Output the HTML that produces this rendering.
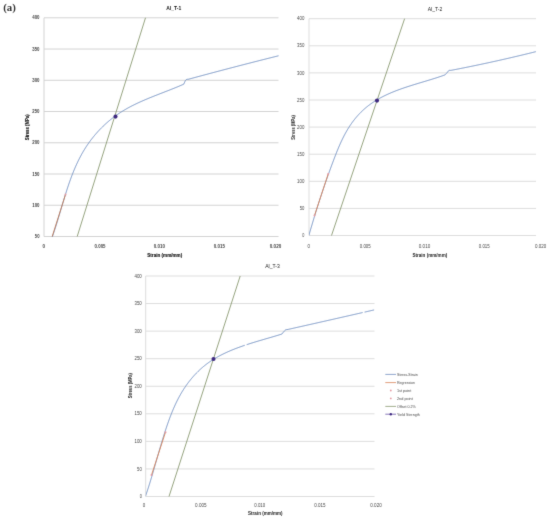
<!DOCTYPE html>
<html lang="en">
<head>
<meta charset="utf-8">
<title>Stress-strain curves Al_T-1, Al_T-2, Al_T-3</title>
<style>
html,body{margin:0;padding:0;background:#fff;}
body{width:550px;height:519px;overflow:hidden;}
svg{display:block;}
</style>
</head>
<body>
<svg width="550" height="519" viewBox="0 0 550 519" font-family="'Liberation Sans', Arial, sans-serif">
<defs><filter id="soft" x="0" y="0" width="550" height="519" filterUnits="userSpaceOnUse" color-interpolation-filters="sRGB"><feConvolveMatrix order="3" kernelMatrix="0.0100 0.0800 0.0100 0.0800 0.6400 0.0800 0.0100 0.0800 0.0100" edgeMode="duplicate"/></filter></defs>
<g filter="url(#soft)">
<rect width="550" height="519" fill="#fff"/>
<line x1="44.00" y1="17.80" x2="278.50" y2="17.80" stroke="#d3d3d3" stroke-width="1.00" />
<text x="0" y="0" font-size="4.60" text-anchor="middle" font-weight="bold" fill="#444444" transform="translate(35.90,19.46) scale(0.9511,1)">400</text>
<line x1="44.00" y1="49.04" x2="278.50" y2="49.04" stroke="#d3d3d3" stroke-width="1.00" />
<text x="0" y="0" font-size="4.60" text-anchor="middle" font-weight="bold" fill="#444444" transform="translate(35.90,50.70) scale(0.9511,1)">350</text>
<line x1="44.00" y1="80.29" x2="278.50" y2="80.29" stroke="#d3d3d3" stroke-width="1.00" />
<text x="0" y="0" font-size="4.60" text-anchor="middle" font-weight="bold" fill="#444444" transform="translate(35.90,81.94) scale(0.9511,1)">300</text>
<line x1="44.00" y1="111.53" x2="278.50" y2="111.53" stroke="#d3d3d3" stroke-width="1.00" />
<text x="0" y="0" font-size="4.60" text-anchor="middle" font-weight="bold" fill="#444444" transform="translate(35.90,113.18) scale(0.9511,1)">250</text>
<line x1="44.00" y1="142.77" x2="278.50" y2="142.77" stroke="#d3d3d3" stroke-width="1.00" />
<text x="0" y="0" font-size="4.60" text-anchor="middle" font-weight="bold" fill="#444444" transform="translate(35.90,144.43) scale(0.9511,1)">200</text>
<line x1="44.00" y1="174.01" x2="278.50" y2="174.01" stroke="#d3d3d3" stroke-width="1.00" />
<text x="0" y="0" font-size="4.60" text-anchor="middle" font-weight="bold" fill="#444444" transform="translate(35.90,175.67) scale(0.9511,1)">150</text>
<line x1="44.00" y1="205.26" x2="278.50" y2="205.26" stroke="#d3d3d3" stroke-width="1.00" />
<text x="0" y="0" font-size="4.60" text-anchor="middle" font-weight="bold" fill="#444444" transform="translate(35.90,206.91) scale(0.9511,1)">100</text>
<line x1="44.00" y1="236.50" x2="278.50" y2="236.50" stroke="#d3d3d3" stroke-width="1.00" />
<text x="0" y="0" font-size="4.60" text-anchor="middle" font-weight="bold" fill="#444444" transform="translate(37.20,238.16) scale(0.9186,1)">50</text>
<line x1="44.00" y1="17.80" x2="44.00" y2="236.50" stroke="#d3d3d3" stroke-width="1.00" />
<text x="0" y="0" font-size="4.60" text-anchor="middle" font-weight="bold" fill="#444444" transform="translate(43.80,247.66) scale(0.9772,1)">0</text>
<text x="0" y="0" font-size="4.60" text-anchor="middle" font-weight="bold" fill="#444444" transform="translate(100.05,247.66) scale(0.9556,1)">0.005</text>
<text x="0" y="0" font-size="4.60" text-anchor="middle" font-weight="bold" fill="#444444" transform="translate(159.35,247.66) scale(0.9730,1)">0.010</text>
<text x="0" y="0" font-size="4.60" text-anchor="middle" font-weight="bold" fill="#444444" transform="translate(219.35,247.66) scale(0.9730,1)">0.015</text>
<text x="0" y="0" font-size="4.60" text-anchor="middle" font-weight="bold" fill="#444444" transform="translate(275.50,247.66) scale(0.9990,1)">0.020</text>
<text x="0" y="0" font-size="5.00" text-anchor="middle" font-weight="bold" fill="#111111" stroke="#111111" stroke-width="0.12" transform="translate(164.75,256.60) scale(0.9196,1)">Strain (mm/mm)</text>
<text x="0" y="0" font-size="4.90" text-anchor="middle" font-weight="bold" fill="#111111" stroke="#111111" stroke-width="0.12" transform="translate(28.76,127.25) rotate(-90) scale(0.8759,1)">Stress (MPa)</text>
<text x="0" y="0" font-size="5.40" text-anchor="middle" font-weight="bold" fill="#111111" transform="translate(173.75,10.44) scale(0.9256,1)">Al_T-1</text>
<clipPath id="c1"><rect x="44.00" y="14.80" width="235.50" height="222.20"/></clipPath>
<g clip-path="url(#c1)" fill="none" stroke-linejoin="round" stroke-linecap="butt">
<line x1="77.20" y1="236.50" x2="145.50" y2="17.80" stroke="#8a9a72" stroke-width="0.90" />
<path d="M49.35,244.75 L49.60,244.13 L49.84,243.50 L50.09,242.88 L50.33,242.25 L50.57,241.62 L50.81,240.99 L51.04,240.35 L51.28,239.72 L51.51,239.08 L51.74,238.44 L51.97,237.80 L52.20,237.16 L52.43,236.52 L52.66,235.87 L52.88,235.23 L53.11,234.58 L53.33,233.93 L53.55,233.29 L53.77,232.63 L53.99,231.98 L54.21,231.33 L54.42,230.68 L54.64,230.02 L54.85,229.36 L55.07,228.71 L55.28,228.05 L55.49,227.39 L55.70,226.73 L55.91,226.07 L56.12,225.40 L56.33,224.74 L56.53,224.07 L56.74,223.41 L56.95,222.74 L57.15,222.07 L57.36,221.41 L57.56,220.74 L57.76,220.07 L57.97,219.40 L58.17,218.73 L58.37,218.06 L58.57,217.38 L58.78,216.71 L58.98,216.04 L59.18,215.36 L59.38,214.69 L59.58,214.01 L59.78,213.34 L59.98,212.66 L60.18,211.98 L60.38,211.31 L60.58,210.63 L60.78,209.95 L60.98,209.27 L61.18,208.60 L61.38,207.92 L61.58,207.24 L61.79,206.56 L61.99,205.88 L62.19,205.20 L62.39,204.52 L62.59,203.84 L62.80,203.16 L63.00,202.48 L63.20,201.80 L63.41,201.12 L63.61,200.44 L63.82,199.76 L64.02,199.08 L64.23,198.40 L64.44,197.72 L64.64,197.04 L64.85,196.37 L65.06,195.69 L65.27,195.01 L65.48,194.33 L65.70,193.65 L65.91,192.97 L66.12,192.30 L66.34,191.62 L66.55,190.94 L66.77,190.27 L66.99,189.59 L67.21,188.92 L67.43,188.24 L67.65,187.57 L67.88,186.90 L68.10,186.22 L68.33,185.55 L68.55,184.88 L68.78,184.21 L69.01,183.54 L69.24,182.87 L69.48,182.20 L69.71,181.53 L69.95,180.86 L70.19,180.20 L70.43,179.53 L70.67,178.87 L70.91,178.21 L71.16,177.54 L71.40,176.88 L71.65,176.22 L71.90,175.56 L72.16,174.90 L72.41,174.25 L72.67,173.59 L72.93,172.93 L73.19,172.28 L73.45,171.63 L73.72,170.98 L73.98,170.33 L74.25,169.68 L74.52,169.03 L74.80,168.38 L75.08,167.74 L75.35,167.09 L75.64,166.45 L75.92,165.81 L76.21,165.17 L76.50,164.53 L76.79,163.90 L77.08,163.26 L77.38,162.63 L77.68,162.00 L77.98,161.37 L78.28,160.74 L78.59,160.11 L78.90,159.49 L79.22,158.87 L79.53,158.25 L79.85,157.63 L80.17,157.01 L80.50,156.39 L80.83,155.78 L81.16,155.17 L81.49,154.56 L81.83,153.95 L82.17,153.34 L82.52,152.74 L82.86,152.14 L83.21,151.54 L83.57,150.94 L83.92,150.34 L84.29,149.75 L84.65,149.16 L85.02,148.57 L85.39,147.98 L85.76,147.40 L86.14,146.81 L86.52,146.23 L86.90,145.66 L87.29,145.08 L87.68,144.51 L88.08,143.94 L88.47,143.37 L88.87,142.80 L89.28,142.24 L89.68,141.68 L90.09,141.12 L90.51,140.56 L90.92,140.00 L91.34,139.45 L91.77,138.90 L92.19,138.36 L92.62,137.81 L93.05,137.27 L93.49,136.73 L93.93,136.19 L94.37,135.66 L94.81,135.13 L95.26,134.60 L95.71,134.07 L96.17,133.55 L96.62,133.03 L97.08,132.51 L97.54,132.00 L98.01,131.48 L98.48,130.97 L98.95,130.47 L99.43,129.96 L99.90,129.46 L100.38,128.96 L100.87,128.47 L101.35,127.97 L101.84,127.48 L102.34,127.00 L102.83,126.51 L103.33,126.03 L103.83,125.55 L104.33,125.08 L104.84,124.61 L105.35,124.14 L105.86,123.67 L106.38,123.21 L106.89,122.75 L107.42,122.29 L107.94,121.84 L108.46,121.39 L108.99,120.94 L109.53,120.50 L110.06,120.05 L110.60,119.62 L111.14,119.18 L111.68,118.75 L112.22,118.32 L112.77,117.90 L113.32,117.48 L113.87,117.06 L114.43,116.64 L114.99,116.23 L115.55,115.82 L116.11,115.42 L116.68,115.02 L117.25,114.62 L117.82,114.22 L118.39,113.83 L118.97,113.44 L119.55,113.06 L120.13,112.68 L120.71,112.30 L121.30,111.93 L121.89,111.56 L122.48,111.19 L123.07,110.83 L123.67,110.47 L124.27,110.11 L124.87,109.76 L125.47,109.41 L126.07,109.06 L126.68,108.71 L127.29,108.37 L127.90,108.03 L128.51,107.70 L129.13,107.37 L129.74,107.04 L130.36,106.71 L130.98,106.38 L131.60,106.06 L132.23,105.74 L132.85,105.43 L133.48,105.11 L134.11,104.80 L134.74,104.49 L135.37,104.18 L136.00,103.88 L136.63,103.57 L137.27,103.27 L137.90,102.98 L138.54,102.68 L139.18,102.39 L139.82,102.09 L140.46,101.80 L141.11,101.51 L141.75,101.23 L142.39,100.94 L143.04,100.66 L143.69,100.38 L144.33,100.10 L144.98,99.82 L145.63,99.54 L146.28,99.27 L146.93,98.99 L147.58,98.72 L148.23,98.45 L148.89,98.18 L149.54,97.91 L150.19,97.65 L150.85,97.38 L151.50,97.11 L152.16,96.85 L152.81,96.59 L153.47,96.33 L154.12,96.06 L154.78,95.80 L155.43,95.54 L156.09,95.29 L156.75,95.03 L157.40,94.77 L158.06,94.51 L158.71,94.26 L159.37,94.00 L160.03,93.75 L160.68,93.49 L161.34,93.24 L161.99,92.98 L162.65,92.73 L163.30,92.47 L163.95,92.22 L164.61,91.96 L165.26,91.71 L165.91,91.46 L166.57,91.20 L167.22,90.95 L167.87,90.70 L168.52,90.44 L169.17,90.19 L169.82,89.93 L170.46,89.68 L171.11,89.42 L171.76,89.16 L172.40,88.91 L173.04,88.65 L173.69,88.39 L174.33,88.13 L174.97,87.87 L175.61,87.61 L176.25,87.35 L176.88,87.09 L177.52,86.83 L178.15,86.57 L178.79,86.30 L179.42,86.03 L180.05,85.77 L180.68,85.50 L181.30,85.23 L181.93,84.96 L182.55,84.69 L183.17,84.42 L183.80,84.14 L184.07,83.49 L184.26,83.04 L184.47,82.55 L184.69,82.05 L184.91,81.57 L185.12,81.14 L185.46,80.53 L185.74,80.12 L186.15,79.70 L186.73,79.42 L187.28,79.31 L187.86,79.27 L188.34,79.25 L189.00,79.10 L189.50,78.96 L190.00,78.83 L190.50,78.69 L191.00,78.55 L191.50,78.42 L192.00,78.28 L192.50,78.15 L193.00,78.01 L193.50,77.88 L194.00,77.74 L194.50,77.61 L195.00,77.47 L195.50,77.33 L196.00,77.20 L196.50,77.06 L197.00,76.93 L197.50,76.79 L198.00,76.66 L198.50,76.52 L199.00,76.39 L199.50,76.26 L200.00,76.12 L200.50,75.99 L201.00,75.85 L201.50,75.72 L202.00,75.58 L202.50,75.45 L203.00,75.31 L203.50,75.18 L204.00,75.05 L204.50,74.91 L205.00,74.78 L205.50,74.64 L206.00,74.51 L206.50,74.38 L207.00,74.24 L207.50,74.11 L208.00,73.98 L208.50,73.84 L209.00,73.71 L209.50,73.57 L210.00,73.44 L210.50,73.31 L211.00,73.18 L211.50,73.04 L212.00,72.91 L212.50,72.78 L213.00,72.64 L213.50,72.51 L214.00,72.38 L214.50,72.24 L215.00,72.11 L215.50,71.98 L216.00,71.85 L216.50,71.71 L217.00,71.58 L217.50,71.45 L218.00,71.32 L218.50,71.18 L219.00,71.05 L219.50,70.92 L220.00,70.79 L220.50,70.66 L221.00,70.52 L221.50,70.39 L222.00,70.26 L222.50,70.13 L223.00,70.00 L223.50,69.87 L224.00,69.73 L224.50,69.60 L225.00,69.47 L225.50,69.34 L226.00,69.21 L226.50,69.08 L227.00,68.95 L227.50,68.82 L228.00,68.68 L228.50,68.55 L229.00,68.42 L229.50,68.29 L230.00,68.16 L230.50,68.03 L231.00,67.90 L231.50,67.77 L232.00,67.64 L232.50,67.51 L233.00,67.38 L233.50,67.25 L234.00,67.12 L234.50,66.99 L235.00,66.86 L235.50,66.73 L236.00,66.60 L236.50,66.47 L237.00,66.34 L237.50,66.21 L238.00,66.08 L238.50,65.95 L239.00,65.82 L239.50,65.69 L240.00,65.56 L240.50,65.43 L241.00,65.30 L241.50,65.17 L242.00,65.04 L242.50,64.91 L243.00,64.79 L243.50,64.66 L244.00,64.53 L244.50,64.40 L245.00,64.27 L245.50,64.14 L246.00,64.01 L246.50,63.88 L247.00,63.76 L247.50,63.63 L248.00,63.50 L248.50,63.37 L249.00,63.24 L249.50,63.11 L250.00,62.99 L250.50,62.86 L251.00,62.73 L251.50,62.60 L252.00,62.47 L252.50,62.35 L253.00,62.22 L253.50,62.09 L254.00,61.96 L254.50,61.84 L255.00,61.71 L255.50,61.58 L256.00,61.45 L256.50,61.33 L257.00,61.20 L257.50,61.07 L258.00,60.94 L258.50,60.82 L259.00,60.69 L259.50,60.56 L260.00,60.44 L260.50,60.31 L261.00,60.18 L261.50,60.06 L262.00,59.93 L262.50,59.80 L263.00,59.68 L263.50,59.55 L264.00,59.42 L264.50,59.30 L265.00,59.17 L265.50,59.05 L266.00,58.92 L266.50,58.79 L267.00,58.67 L267.50,58.54 L268.00,58.42 L268.50,58.29 L269.00,58.17 L269.50,58.04 L270.00,57.91 L270.50,57.79 L271.00,57.66 L271.50,57.54 L272.00,57.41 L272.50,57.29 L273.00,57.16 L273.50,57.04 L274.00,56.91 L274.50,56.79 L275.00,56.66 L275.50,56.54 L276.00,56.41 L276.50,56.29 L277.00,56.16 L277.50,56.04 L278.00,55.91 L278.50,55.79" stroke="#7391c2" stroke-width="1.00"/>
<line x1="52.20" y1="236.50" x2="65.50" y2="194.50" stroke="#c27a55" stroke-width="0.90" />
</g>
<circle cx="65.50" cy="194.50" r="1.0" fill="#e59aa2"/>
<circle cx="115.50" cy="116.60" r="2.05" fill="#3f2a80"/>
<line x1="309.00" y1="18.70" x2="536.00" y2="18.70" stroke="#dddddd" stroke-width="1.00" />
<text x="0" y="0" font-size="4.60" text-anchor="middle" font-weight="normal" fill="#484848" transform="translate(300.70,20.36) scale(0.9511,1)">400</text>
<line x1="309.00" y1="45.80" x2="536.00" y2="45.80" stroke="#dddddd" stroke-width="1.00" />
<text x="0" y="0" font-size="4.60" text-anchor="middle" font-weight="normal" fill="#484848" transform="translate(300.70,47.46) scale(0.9511,1)">350</text>
<line x1="309.00" y1="72.90" x2="536.00" y2="72.90" stroke="#dddddd" stroke-width="1.00" />
<text x="0" y="0" font-size="4.60" text-anchor="middle" font-weight="normal" fill="#484848" transform="translate(300.70,74.56) scale(0.9511,1)">300</text>
<line x1="309.00" y1="100.00" x2="536.00" y2="100.00" stroke="#dddddd" stroke-width="1.00" />
<text x="0" y="0" font-size="4.60" text-anchor="middle" font-weight="normal" fill="#484848" transform="translate(300.70,101.66) scale(0.9511,1)">250</text>
<line x1="309.00" y1="127.10" x2="536.00" y2="127.10" stroke="#dddddd" stroke-width="1.00" />
<text x="0" y="0" font-size="4.60" text-anchor="middle" font-weight="normal" fill="#484848" transform="translate(300.70,128.76) scale(0.9511,1)">200</text>
<line x1="309.00" y1="154.20" x2="536.00" y2="154.20" stroke="#dddddd" stroke-width="1.00" />
<text x="0" y="0" font-size="4.60" text-anchor="middle" font-weight="normal" fill="#484848" transform="translate(300.70,155.86) scale(0.9511,1)">150</text>
<line x1="309.00" y1="181.30" x2="536.00" y2="181.30" stroke="#dddddd" stroke-width="1.00" />
<text x="0" y="0" font-size="4.60" text-anchor="middle" font-weight="normal" fill="#484848" transform="translate(300.70,182.96) scale(0.9511,1)">100</text>
<line x1="309.00" y1="208.40" x2="536.00" y2="208.40" stroke="#dddddd" stroke-width="1.00" />
<text x="0" y="0" font-size="4.60" text-anchor="middle" font-weight="normal" fill="#484848" transform="translate(302.00,210.06) scale(0.9186,1)">50</text>
<line x1="309.00" y1="235.50" x2="536.00" y2="235.50" stroke="#dddddd" stroke-width="1.00" />
<text x="0" y="0" font-size="4.60" text-anchor="middle" font-weight="normal" fill="#484848" transform="translate(303.30,237.16) scale(0.8209,1)">0</text>
<line x1="309.00" y1="18.70" x2="309.00" y2="235.50" stroke="#dddddd" stroke-width="1.00" />
<text x="0" y="0" font-size="4.60" text-anchor="middle" font-weight="normal" fill="#484848" transform="translate(308.80,247.66) scale(0.9772,1)">0</text>
<text x="0" y="0" font-size="4.60" text-anchor="middle" font-weight="normal" fill="#484848" transform="translate(365.25,247.66) scale(0.9556,1)">0.005</text>
<text x="0" y="0" font-size="4.60" text-anchor="middle" font-weight="normal" fill="#484848" transform="translate(424.50,247.66) scale(0.9990,1)">0.010</text>
<text x="0" y="0" font-size="4.60" text-anchor="middle" font-weight="normal" fill="#484848" transform="translate(484.25,247.66) scale(0.9556,1)">0.015</text>
<text x="0" y="0" font-size="4.60" text-anchor="middle" font-weight="normal" fill="#484848" transform="translate(540.65,247.66) scale(0.9730,1)">0.020</text>
<text x="0" y="0" font-size="5.00" text-anchor="middle" font-weight="bold" fill="#222222" transform="translate(429.85,256.80) scale(0.9143,1)">Strain (mm/mm)</text>
<text x="0" y="0" font-size="4.90" text-anchor="middle" font-weight="bold" fill="#222222" transform="translate(294.56,127.40) rotate(-90) scale(0.8321,1)">Stress (MPa)</text>
<text x="0" y="0" font-size="5.40" text-anchor="middle" font-weight="normal" fill="#222222" transform="translate(435.00,11.44) scale(0.9291,1)">Al_T-2</text>
<clipPath id="c2"><rect x="309.00" y="15.70" width="228.00" height="220.30"/></clipPath>
<g clip-path="url(#c2)" fill="none" stroke-linejoin="round" stroke-linecap="butt">
<line x1="331.50" y1="235.50" x2="404.60" y2="18.70" stroke="#8a9a72" stroke-width="0.90" />
<path d="M308.87,235.43 L309.06,234.76 L309.25,234.08 L309.45,233.41 L309.64,232.74 L309.84,232.06 L310.03,231.39 L310.23,230.72 L310.42,230.04 L310.62,229.37 L310.82,228.70 L311.01,228.03 L311.21,227.36 L311.41,226.69 L311.61,226.02 L311.81,225.35 L312.00,224.68 L312.20,224.01 L312.40,223.34 L312.60,222.67 L312.80,222.00 L313.00,221.33 L313.20,220.67 L313.40,220.00 L313.61,219.33 L313.81,218.66 L314.01,218.00 L314.21,217.33 L314.42,216.66 L314.62,216.00 L314.82,215.33 L315.03,214.67 L315.23,214.00 L315.44,213.33 L315.64,212.67 L315.85,212.00 L316.06,211.34 L316.26,210.67 L316.47,210.01 L316.68,209.35 L316.89,208.68 L317.09,208.02 L317.30,207.36 L317.51,206.69 L317.72,206.03 L317.93,205.37 L318.14,204.70 L318.36,204.04 L318.57,203.38 L318.78,202.72 L318.99,202.05 L319.21,201.39 L319.42,200.73 L319.63,200.07 L319.85,199.41 L320.06,198.74 L320.28,198.08 L320.49,197.42 L320.71,196.76 L320.93,196.10 L321.15,195.44 L321.36,194.78 L321.58,194.12 L321.80,193.46 L322.02,192.80 L322.24,192.13 L322.46,191.47 L322.68,190.81 L322.90,190.15 L323.13,189.49 L323.35,188.83 L323.57,188.17 L323.80,187.51 L324.02,186.85 L324.25,186.19 L324.47,185.53 L324.70,184.87 L324.92,184.21 L325.15,183.55 L325.38,182.89 L325.61,182.23 L325.84,181.57 L326.07,180.91 L326.30,180.26 L326.53,179.60 L326.76,178.94 L326.99,178.28 L327.22,177.62 L327.46,176.96 L327.69,176.30 L327.92,175.64 L328.16,174.98 L328.39,174.32 L328.63,173.66 L328.87,173.00 L329.10,172.34 L329.34,171.68 L329.58,171.02 L329.82,170.36 L330.06,169.70 L330.30,169.04 L330.54,168.38 L330.78,167.72 L331.02,167.06 L331.27,166.39 L331.51,165.73 L331.76,165.07 L332.00,164.41 L332.25,163.75 L332.49,163.09 L332.74,162.43 L332.99,161.77 L333.24,161.11 L333.49,160.44 L333.74,159.78 L333.99,159.12 L334.24,158.46 L334.49,157.80 L334.74,157.14 L335.00,156.48 L335.25,155.81 L335.51,155.15 L335.77,154.49 L336.03,153.83 L336.29,153.17 L336.55,152.52 L336.81,151.86 L337.08,151.20 L337.34,150.54 L337.61,149.89 L337.88,149.23 L338.16,148.58 L338.43,147.93 L338.70,147.27 L338.98,146.62 L339.26,145.97 L339.54,145.32 L339.83,144.68 L340.11,144.03 L340.40,143.39 L340.69,142.74 L340.99,142.10 L341.28,141.46 L341.58,140.82 L341.88,140.19 L342.19,139.55 L342.49,138.92 L342.80,138.29 L343.11,137.66 L343.43,137.03 L343.75,136.40 L344.07,135.78 L344.39,135.16 L344.72,134.54 L345.05,133.92 L345.39,133.31 L345.72,132.69 L346.06,132.08 L346.41,131.48 L346.76,130.87 L347.11,130.27 L347.46,129.67 L347.82,129.07 L348.19,128.48 L348.55,127.89 L348.92,127.30 L349.30,126.71 L349.68,126.13 L350.06,125.55 L350.45,124.98 L350.84,124.40 L351.23,123.83 L351.63,123.27 L352.03,122.70 L352.44,122.14 L352.85,121.59 L353.27,121.03 L353.69,120.48 L354.11,119.94 L354.54,119.39 L354.97,118.85 L355.41,118.32 L355.85,117.79 L356.29,117.26 L356.74,116.73 L357.19,116.21 L357.65,115.70 L358.11,115.19 L358.57,114.68 L359.04,114.17 L359.51,113.67 L359.99,113.18 L360.47,112.68 L360.95,112.20 L361.44,111.71 L361.94,111.23 L362.44,110.76 L362.94,110.29 L363.44,109.82 L363.95,109.36 L364.47,108.90 L364.99,108.45 L365.51,108.00 L366.03,107.56 L366.56,107.12 L367.10,106.69 L367.64,106.26 L368.18,105.83 L368.73,105.41 L369.28,105.00 L369.83,104.59 L370.39,104.18 L370.95,103.78 L371.51,103.38 L372.08,102.98 L372.65,102.59 L373.22,102.21 L373.80,101.83 L374.38,101.45 L374.96,101.08 L375.55,100.71 L376.14,100.35 L376.73,99.99 L377.33,99.63 L377.93,99.28 L378.53,98.94 L379.13,98.59 L379.74,98.26 L380.35,97.92 L380.96,97.59 L381.57,97.26 L382.19,96.94 L382.81,96.62 L383.43,96.30 L384.05,95.99 L384.68,95.68 L385.31,95.38 L385.94,95.08 L386.57,94.78 L387.21,94.48 L387.84,94.19 L388.48,93.90 L389.12,93.62 L389.77,93.33 L390.41,93.06 L391.06,92.78 L391.71,92.51 L392.36,92.24 L393.01,91.97 L393.66,91.70 L394.31,91.44 L394.97,91.18 L395.63,90.92 L396.29,90.67 L396.95,90.42 L397.61,90.17 L398.27,89.92 L398.94,89.67 L399.60,89.43 L400.27,89.19 L400.93,88.95 L401.60,88.71 L402.27,88.48 L402.94,88.25 L403.61,88.02 L404.28,87.79 L404.96,87.56 L405.63,87.33 L406.30,87.11 L406.98,86.89 L407.65,86.67 L408.33,86.45 L409.00,86.23 L409.68,86.01 L410.36,85.80 L411.03,85.58 L411.71,85.37 L412.39,85.16 L413.07,84.95 L413.74,84.74 L414.42,84.53 L415.10,84.32 L415.78,84.11 L416.45,83.91 L417.13,83.70 L417.81,83.50 L418.48,83.29 L419.16,83.09 L419.84,82.89 L420.51,82.68 L421.19,82.48 L421.86,82.28 L422.54,82.08 L423.21,81.88 L423.88,81.67 L424.55,81.47 L425.22,81.27 L425.89,81.07 L426.56,80.87 L427.23,80.67 L427.90,80.47 L428.57,80.26 L429.23,80.06 L429.90,79.86 L430.56,79.66 L431.22,79.45 L431.88,79.25 L432.54,79.04 L433.20,78.84 L433.86,78.63 L434.51,78.42 L435.17,78.22 L435.82,78.01 L436.47,77.80 L437.12,77.59 L437.77,77.37 L438.41,77.16 L439.06,76.95 L439.70,76.73 L440.34,76.52 L440.97,76.30 L441.61,76.08 L442.24,75.86 L442.88,75.64 L443.51,75.41 L444.13,75.19 L444.76,74.96 L445.25,74.65 L445.77,74.08 L446.08,73.74 L446.41,73.38 L446.73,73.03 L447.30,72.40 L447.73,71.85 L448.11,71.30 L448.49,70.84 L448.90,70.50 L449.42,70.34 L450.00,70.32 L450.53,70.36 L451.40,70.28 L451.90,70.19 L452.40,70.09 L452.90,70.00 L453.40,69.90 L453.90,69.80 L454.40,69.71 L454.90,69.61 L455.40,69.51 L455.90,69.42 L456.40,69.32 L456.90,69.22 L457.40,69.12 L457.90,69.02 L458.40,68.93 L458.90,68.83 L459.40,68.73 L459.90,68.63 L460.40,68.53 L460.90,68.43 L461.40,68.33 L461.90,68.23 L462.40,68.14 L462.90,68.04 L463.40,67.94 L463.90,67.84 L464.40,67.74 L464.90,67.64 L465.40,67.53 L465.90,67.43 L466.40,67.33 L466.90,67.23 L467.40,67.13 L467.90,67.03 L468.40,66.93 L468.90,66.83 L469.40,66.72 L469.90,66.62 L470.40,66.52 L470.90,66.42 L471.40,66.31 L471.90,66.21 L472.40,66.11 L472.90,66.01 L473.40,65.90 L473.90,65.80 L474.40,65.70 L474.90,65.59 L475.40,65.49 L475.90,65.38 L476.40,65.28 L476.90,65.18 L477.40,65.07 L477.90,64.97 L478.40,64.86 L478.90,64.76 L479.40,64.65 L479.90,64.54 L480.40,64.44 L480.90,64.33 L481.40,64.23 L481.90,64.12 L482.40,64.01 L482.90,63.91 L483.40,63.80 L483.90,63.69 L484.40,63.59 L484.90,63.48 L485.40,63.37 L485.90,63.27 L486.40,63.16 L486.90,63.05 L487.40,62.94 L487.90,62.83 L488.40,62.73 L488.90,62.62 L489.40,62.51 L489.90,62.40 L490.40,62.29 L490.90,62.18 L491.40,62.07 L491.90,61.96 L492.40,61.85 L492.90,61.74 L493.40,61.63 L493.90,61.52 L494.40,61.41 L494.90,61.30 L495.40,61.19 L495.90,61.08 L496.40,60.97 L496.90,60.86 L497.40,60.75 L497.90,60.63 L498.40,60.52 L498.90,60.41 L499.40,60.30 L499.90,60.19 L500.40,60.07 L500.90,59.96 L501.40,59.85 L501.90,59.74 L502.40,59.62 L502.90,59.51 L503.40,59.40 L503.90,59.28 L504.40,59.17 L504.90,59.05 L505.40,58.94 L505.90,58.83 L506.40,58.71 L506.90,58.60 L507.40,58.48 L507.90,58.37 L508.40,58.25 L508.90,58.14 L509.40,58.02 L509.90,57.90 L510.40,57.79 L510.90,57.67 L511.40,57.56 L511.90,57.44 L512.40,57.32 L512.90,57.21 L513.40,57.09 L513.90,56.97 L514.40,56.85 L514.90,56.74 L515.40,56.62 L515.90,56.50 L516.40,56.38 L516.90,56.27 L517.40,56.15 L517.90,56.03 L518.40,55.91 L518.90,55.79 L519.40,55.67 L519.90,55.55 L520.40,55.43 L520.90,55.32 L521.40,55.20 L521.90,55.08 L522.40,54.96 L522.90,54.84 L523.40,54.72 L523.90,54.59 L524.40,54.47 L524.90,54.35 L525.40,54.23 L525.90,54.11 L526.40,53.99 L526.90,53.87 L527.40,53.75 L527.90,53.62 L528.40,53.50 L528.90,53.38 L529.40,53.26 L529.90,53.14 L530.40,53.01 L530.90,52.89 L531.40,52.77 L531.90,52.64 L532.40,52.52 L532.90,52.40 L533.40,52.27 L533.90,52.15 L534.40,52.03 L534.90,51.90 L535.40,51.78 L535.90,51.65" stroke="#7391c2" stroke-width="1.00"/>
<line x1="314.50" y1="215.50" x2="328.20" y2="174.00" stroke="#d9845a" stroke-width="0.90" />
</g>
<circle cx="314.50" cy="215.50" r="1.0" fill="#e59aa2"/>
<circle cx="328.20" cy="174.00" r="1.0" fill="#e59aa2"/>
<circle cx="377.00" cy="100.60" r="2.05" fill="#3f2a80"/>
<line x1="145.70" y1="276.00" x2="374.50" y2="276.00" stroke="#dddddd" stroke-width="1.00" />
<text x="0" y="0" font-size="4.60" text-anchor="middle" font-weight="normal" fill="#484848" transform="translate(138.10,277.66) scale(0.9511,1)">400</text>
<line x1="145.70" y1="303.56" x2="374.50" y2="303.56" stroke="#dddddd" stroke-width="1.00" />
<text x="0" y="0" font-size="4.60" text-anchor="middle" font-weight="normal" fill="#484848" transform="translate(138.10,305.22) scale(0.9511,1)">350</text>
<line x1="145.70" y1="331.12" x2="374.50" y2="331.12" stroke="#dddddd" stroke-width="1.00" />
<text x="0" y="0" font-size="4.60" text-anchor="middle" font-weight="normal" fill="#484848" transform="translate(138.10,332.78) scale(0.9511,1)">300</text>
<line x1="145.70" y1="358.69" x2="374.50" y2="358.69" stroke="#dddddd" stroke-width="1.00" />
<text x="0" y="0" font-size="4.60" text-anchor="middle" font-weight="normal" fill="#484848" transform="translate(138.10,360.34) scale(0.9511,1)">250</text>
<line x1="145.70" y1="386.25" x2="374.50" y2="386.25" stroke="#dddddd" stroke-width="1.00" />
<text x="0" y="0" font-size="4.60" text-anchor="middle" font-weight="normal" fill="#484848" transform="translate(138.10,387.91) scale(0.9511,1)">200</text>
<line x1="145.70" y1="413.81" x2="374.50" y2="413.81" stroke="#dddddd" stroke-width="1.00" />
<text x="0" y="0" font-size="4.60" text-anchor="middle" font-weight="normal" fill="#484848" transform="translate(138.10,415.47) scale(0.9511,1)">150</text>
<line x1="145.70" y1="441.38" x2="374.50" y2="441.38" stroke="#dddddd" stroke-width="1.00" />
<text x="0" y="0" font-size="4.60" text-anchor="middle" font-weight="normal" fill="#484848" transform="translate(138.10,443.03) scale(0.9511,1)">100</text>
<line x1="145.70" y1="468.94" x2="374.50" y2="468.94" stroke="#dddddd" stroke-width="1.00" />
<text x="0" y="0" font-size="4.60" text-anchor="middle" font-weight="normal" fill="#484848" transform="translate(139.40,470.59) scale(0.9186,1)">50</text>
<line x1="145.70" y1="496.50" x2="374.50" y2="496.50" stroke="#dddddd" stroke-width="1.00" />
<text x="0" y="0" font-size="4.60" text-anchor="middle" font-weight="normal" fill="#484848" transform="translate(140.70,498.16) scale(0.8209,1)">0</text>
<line x1="145.70" y1="276.00" x2="145.70" y2="496.50" stroke="#dddddd" stroke-width="1.00" />
<text x="0" y="0" font-size="4.60" text-anchor="middle" font-weight="normal" fill="#484848" transform="translate(144.00,506.66) scale(0.9772,1)">0</text>
<text x="0" y="0" font-size="4.60" text-anchor="middle" font-weight="normal" fill="#484848" transform="translate(200.80,506.66) scale(0.9990,1)">0.005</text>
<text x="0" y="0" font-size="4.60" text-anchor="middle" font-weight="normal" fill="#484848" transform="translate(259.75,506.66) scale(0.9556,1)">0.010</text>
<text x="0" y="0" font-size="4.60" text-anchor="middle" font-weight="normal" fill="#484848" transform="translate(319.90,506.66) scale(0.9816,1)">0.015</text>
<text x="0" y="0" font-size="4.60" text-anchor="middle" font-weight="normal" fill="#484848" transform="translate(376.00,506.66) scale(0.9990,1)">0.020</text>
<text x="0" y="0" font-size="5.00" text-anchor="middle" font-weight="bold" fill="#222222" transform="translate(265.30,515.30) scale(0.9064,1)">Strain (mm/mm)</text>
<text x="0" y="0" font-size="4.90" text-anchor="middle" font-weight="bold" fill="#222222" transform="translate(131.76,385.65) rotate(-90) scale(0.8490,1)">Stress (MPa)</text>
<text x="0" y="0" font-size="5.40" text-anchor="middle" font-weight="normal" fill="#222222" transform="translate(272.50,268.44) scale(0.9291,1)">Al_T-3</text>
<clipPath id="c3"><rect x="145.70" y="273.00" width="229.80" height="224.00"/></clipPath>
<g clip-path="url(#c3)" fill="none" stroke-linejoin="round" stroke-linecap="butt">
<line x1="169.00" y1="496.50" x2="240.20" y2="276.00" stroke="#8a9a72" stroke-width="0.90" />
<path d="M145.43,496.30 L145.66,495.65 L145.89,495.00 L146.11,494.35 L146.33,493.69 L146.56,493.04 L146.78,492.39 L147.00,491.74 L147.22,491.08 L147.43,490.43 L147.65,489.77 L147.86,489.12 L148.08,488.46 L148.29,487.80 L148.50,487.15 L148.71,486.49 L148.92,485.83 L149.13,485.17 L149.34,484.51 L149.55,483.85 L149.75,483.19 L149.96,482.53 L150.16,481.86 L150.37,481.20 L150.57,480.54 L150.77,479.88 L150.97,479.21 L151.17,478.55 L151.37,477.88 L151.57,477.22 L151.77,476.55 L151.97,475.89 L152.17,475.22 L152.37,474.55 L152.56,473.89 L152.76,473.22 L152.95,472.55 L153.15,471.88 L153.34,471.21 L153.54,470.54 L153.73,469.88 L153.93,469.21 L154.12,468.54 L154.31,467.87 L154.51,467.20 L154.70,466.52 L154.89,465.85 L155.09,465.18 L155.28,464.51 L155.47,463.84 L155.66,463.17 L155.85,462.50 L156.05,461.82 L156.24,461.15 L156.43,460.48 L156.62,459.80 L156.82,459.13 L157.01,458.46 L157.20,457.79 L157.39,457.11 L157.59,456.44 L157.78,455.76 L157.97,455.09 L158.16,454.42 L158.36,453.74 L158.55,453.07 L158.75,452.39 L158.94,451.72 L159.14,451.05 L159.33,450.37 L159.53,449.70 L159.72,449.02 L159.92,448.35 L160.12,447.67 L160.32,447.00 L160.51,446.32 L160.71,445.65 L160.91,444.98 L161.11,444.30 L161.31,443.63 L161.52,442.95 L161.72,442.28 L161.92,441.60 L162.13,440.93 L162.33,440.26 L162.54,439.58 L162.74,438.91 L162.95,438.24 L163.16,437.56 L163.37,436.89 L163.58,436.22 L163.79,435.54 L164.00,434.87 L164.21,434.20 L164.43,433.53 L164.64,432.85 L164.86,432.18 L165.08,431.51 L165.29,430.84 L165.51,430.17 L165.73,429.50 L165.96,428.83 L166.18,428.16 L166.41,427.49 L166.63,426.82 L166.86,426.15 L167.09,425.48 L167.32,424.81 L167.55,424.14 L167.78,423.47 L168.02,422.81 L168.25,422.14 L168.49,421.47 L168.73,420.81 L168.97,420.14 L169.21,419.48 L169.46,418.81 L169.70,418.15 L169.95,417.48 L170.20,416.82 L170.45,416.16 L170.71,415.50 L170.96,414.84 L171.22,414.18 L171.48,413.52 L171.75,412.87 L172.01,412.21 L172.28,411.56 L172.55,410.90 L172.82,410.25 L173.09,409.60 L173.37,408.95 L173.65,408.30 L173.93,407.66 L174.21,407.01 L174.50,406.37 L174.79,405.72 L175.08,405.08 L175.37,404.44 L175.67,403.80 L175.97,403.17 L176.28,402.53 L176.58,401.90 L176.89,401.27 L177.20,400.64 L177.52,400.01 L177.84,399.39 L178.16,398.76 L178.48,398.14 L178.81,397.52 L179.14,396.90 L179.48,396.29 L179.82,395.68 L180.16,395.07 L180.50,394.46 L180.85,393.85 L181.20,393.25 L181.56,392.64 L181.92,392.04 L182.28,391.45 L182.65,390.85 L183.01,390.26 L183.39,389.67 L183.76,389.08 L184.14,388.50 L184.53,387.92 L184.91,387.34 L185.30,386.76 L185.70,386.19 L186.10,385.62 L186.50,385.05 L186.90,384.49 L187.31,383.92 L187.72,383.36 L188.13,382.81 L188.55,382.25 L188.97,381.70 L189.40,381.16 L189.83,380.61 L190.26,380.07 L190.70,379.53 L191.14,379.00 L191.58,378.46 L192.02,377.94 L192.47,377.41 L192.93,376.89 L193.38,376.37 L193.84,375.85 L194.31,375.34 L194.77,374.83 L195.24,374.33 L195.72,373.83 L196.19,373.33 L196.67,372.84 L197.16,372.35 L197.65,371.86 L198.14,371.38 L198.63,370.90 L199.13,370.42 L199.63,369.95 L200.13,369.48 L200.64,369.02 L201.15,368.55 L201.67,368.10 L202.19,367.65 L202.71,367.20 L203.24,366.75 L203.76,366.31 L204.30,365.88 L204.83,365.44 L205.37,365.02 L205.91,364.59 L206.46,364.17 L207.01,363.76 L207.56,363.35 L208.12,362.94 L208.68,362.54 L209.24,362.14 L209.81,361.75 L210.38,361.36 L210.95,360.97 L211.53,360.59 L212.11,360.21 L212.69,359.84 L213.28,359.47 L213.86,359.10 L214.46,358.74 L215.05,358.39 L215.65,358.03 L216.25,357.68 L216.85,357.34 L217.45,356.99 L218.06,356.65 L218.67,356.32 L219.29,355.99 L219.90,355.66 L220.52,355.33 L221.14,355.01 L221.76,354.70 L222.39,354.38 L223.01,354.07 L223.64,353.76 L224.28,353.46 L224.91,353.15 L225.54,352.86 L226.18,352.56 L226.82,352.27 L227.46,351.98 L228.11,351.69 L228.75,351.41 L229.40,351.13 L230.05,350.85 L230.70,350.57 L231.35,350.30 L232.00,350.03 L232.66,349.76 L233.32,349.49 L233.97,349.23 L234.63,348.97 L235.29,348.71 L235.96,348.46 L236.62,348.21 L237.28,347.96 L237.95,347.71 L238.62,347.46 L239.28,347.22 L239.95,346.97 L240.62,346.73 L241.29,346.50 L241.96,346.26 L242.64,346.03 L243.31,345.79 L243.98,345.56 L244.66,345.34 M246.68,344.66 L247.36,344.44 L248.04,344.22 L248.71,344.00 L249.39,343.78 L250.07,343.57 L250.74,343.35 L251.42,343.14 L252.10,342.93 L252.78,342.72 L253.46,342.51 L254.14,342.30 L254.81,342.09 L255.49,341.89 L256.17,341.68 L256.85,341.48 L257.52,341.28 L258.20,341.07 L258.88,340.87 L259.55,340.67 L260.23,340.47 L260.90,340.27 L261.58,340.08 L262.25,339.88 L262.93,339.68 L263.60,339.49 L264.27,339.29 L264.94,339.09 L265.61,338.90 L266.28,338.70 L266.95,338.51 L267.61,338.32 L268.28,338.12 L268.95,337.93 L269.61,337.74 L270.27,337.54 L270.93,337.35 L271.59,337.16 L272.25,336.96 L272.91,336.77 L273.57,336.58 L274.22,336.38 L274.87,336.19 L275.52,335.99 L276.17,335.80 L276.82,335.60 L277.47,335.41 L278.11,335.21 L278.75,335.02 L279.40,334.82 L280.03,334.62 L280.67,334.43 L281.31,334.23 L281.94,334.03 L282.25,333.62 L282.70,333.03 L283.21,332.39 L283.70,331.80 L284.16,331.27 L284.64,330.73 L285.11,330.26 L285.60,329.90 L286.14,329.69 L286.72,329.59 L287.24,329.56 L288.10,329.41 L288.60,329.30 L289.10,329.19 L289.60,329.08 L290.10,328.96 L290.60,328.85 L291.10,328.74 L291.60,328.63 L292.10,328.52 L292.60,328.40 L293.10,328.29 L293.60,328.18 L294.10,328.07 L294.60,327.95 L295.10,327.84 L295.60,327.73 L296.10,327.62 L296.60,327.50 L297.10,327.39 L297.60,327.28 L298.10,327.17 L298.60,327.06 L299.10,326.94 L299.60,326.83 L300.10,326.72 L300.60,326.61 L301.10,326.49 L301.60,326.38 L302.10,326.27 L302.60,326.16 L303.10,326.04 L303.60,325.93 L304.10,325.82 L304.60,325.71 L305.10,325.59 L305.60,325.48 L306.10,325.37 L306.60,325.26 L307.10,325.14 L307.60,325.03 L308.10,324.92 L308.60,324.81 L309.10,324.69 L309.60,324.58 L310.10,324.47 L310.60,324.35 L311.10,324.24 L311.60,324.13 L312.10,324.02 L312.60,323.90 L313.10,323.79 L313.60,323.68 L314.10,323.57 L314.60,323.45 L315.10,323.34 L315.60,323.23 L316.10,323.11 L316.60,323.00 L317.10,322.89 L317.60,322.78 L318.10,322.66 L318.60,322.55 L319.10,322.44 L319.60,322.32 L320.10,322.21 L320.60,322.10 L321.10,321.98 L321.60,321.87 L322.10,321.76 L322.60,321.65 L323.10,321.53 L323.60,321.42 L324.10,321.31 L324.60,321.19 L325.10,321.08 L325.60,320.97 L326.10,320.85 L326.60,320.74 L327.10,320.63 L327.60,320.51 L328.10,320.40 L328.60,320.29 L329.10,320.18 L329.60,320.06 L330.10,319.95 L330.60,319.84 L331.10,319.72 L331.60,319.61 L332.10,319.50 L332.60,319.38 L333.10,319.27 L333.60,319.16 L334.10,319.04 L334.60,318.93 L335.10,318.82 L335.60,318.70 L336.10,318.59 L336.60,318.48 L337.10,318.36 L337.60,318.25 L338.10,318.14 L338.60,318.02 L339.10,317.91 L339.60,317.79 L340.10,317.68 L340.60,317.57 L341.10,317.45 L341.60,317.34 L342.10,317.23 L342.60,317.11 L343.10,317.00 L343.60,316.89 L344.10,316.77 L344.60,316.66 L345.10,316.55 L345.60,316.43 L346.10,316.32 L346.60,316.20 L347.10,316.09 L347.60,315.98 L348.10,315.86 L348.60,315.75 L349.10,315.64 L349.60,315.52 L350.10,315.41 L350.60,315.29 L351.10,315.18 L351.60,315.07 L352.10,314.95 L352.60,314.84 L353.10,314.73 L353.60,314.61 L354.10,314.50 L354.60,314.38 L355.10,314.27 L355.60,314.16 L356.10,314.04 L356.60,313.93 L357.10,313.81 L357.60,313.70 L358.10,313.59 L358.60,313.47 L359.10,313.36 L359.60,313.24 L360.10,313.13 L360.60,313.02 L361.10,312.90 L361.60,312.79 L362.10,312.67 L362.60,312.56 M364.60,312.10 L365.10,311.99 L365.60,311.88 L366.10,311.76 L366.60,311.65 L367.10,311.53 L367.60,311.42 L368.10,311.30 L368.60,311.19 L369.10,311.08 L369.60,310.96 L370.10,310.85 L370.60,310.73 L371.10,310.62 L371.60,310.50 L372.10,310.39 L372.60,310.28 L373.10,310.16 L373.60,310.05 L374.10,309.93" stroke="#7391c2" stroke-width="1.00"/>
<line x1="151.50" y1="475.00" x2="165.50" y2="432.20" stroke="#d9845a" stroke-width="0.90" />
</g>
<circle cx="151.50" cy="475.00" r="1.0" fill="#e59aa2"/>
<circle cx="165.50" cy="432.20" r="1.0" fill="#e59aa2"/>
<circle cx="213.50" cy="359.00" r="2.05" fill="#3f2a80"/>
<line x1="385.30" y1="374.40" x2="396.00" y2="374.40" stroke="#7391c2" stroke-width="0.80" />
<text x="0" y="0" font-size="3.80" text-anchor="middle" font-weight="normal" fill="#4a4a4a" transform="translate(407.35,375.77) scale(0.9471,1)">Stress-Strain</text>
<line x1="385.30" y1="382.60" x2="396.00" y2="382.60" stroke="#d9845a" stroke-width="0.80" />
<text x="0" y="0" font-size="3.80" text-anchor="middle" font-weight="normal" fill="#4a4a4a" transform="translate(405.95,383.97) scale(0.9365,1)">Regression</text>
<circle cx="390.80" cy="390.50" r="0.9" fill="#e59aa2"/>
<text x="0" y="0" font-size="3.80" text-anchor="middle" font-weight="normal" fill="#4a4a4a" transform="translate(404.10,391.87) scale(0.9955,1)">1st point</text>
<circle cx="390.80" cy="398.40" r="0.9" fill="#e59aa2"/>
<text x="0" y="0" font-size="3.80" text-anchor="middle" font-weight="normal" fill="#4a4a4a" transform="translate(404.85,399.77) scale(1.0105,1)">2nd point</text>
<line x1="385.30" y1="406.40" x2="396.00" y2="406.40" stroke="#8a9a72" stroke-width="0.80" />
<text x="0" y="0" font-size="3.80" text-anchor="middle" font-weight="normal" fill="#4a4a4a" transform="translate(406.35,407.77) scale(0.9502,1)">Offset 0.2%</text>
<line x1="385.30" y1="414.20" x2="396.00" y2="414.20" stroke="#6a55a8" stroke-width="0.80" />
<circle cx="390.80" cy="414.20" r="1.2" fill="#3f2a80"/>
<text x="0" y="0" font-size="3.80" text-anchor="middle" font-weight="normal" fill="#4a4a4a" transform="translate(408.35,415.57) scale(0.9608,1)">Yield Strength</text>
<text x="3.2" y="11.1" font-size="10.8" font-weight="bold" fill="#333" font-family="'Liberation Serif', serif">(a)</text>
</g>
</svg>
</body>
</html>
